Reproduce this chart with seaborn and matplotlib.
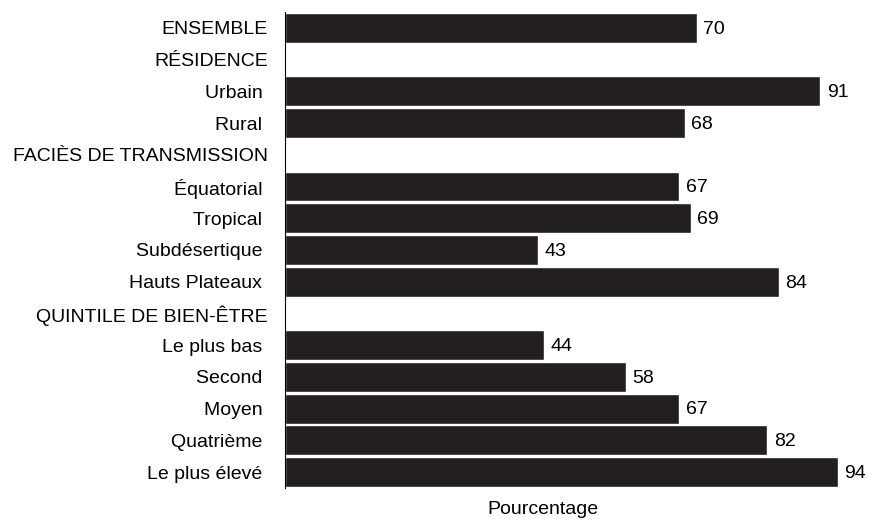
import numpy as np
import pandas as pd
import matplotlib
matplotlib.use("Agg")
import matplotlib.pyplot as plt
import seaborn as sns

categories = ["ENSEMBLE", "RÉSIDENCE", "Urbain", "Rural", "FACIÈS DE TRANSMISSION",
              "Équatorial", "Tropical", "Subdésertique", "Hauts Plateaux",
              "QUINTILE DE BIEN-ÊTRE", "Le plus bas", "Second", "Moyen",
              "Quatrième", "Le plus élevé"]
values = [70, None, 91, 68, None, 67, 69, 43, 84, None, 44, 58, 67, 82, 94]
is_header = [True, True, False, False, True, False, False, False, False,
             True, False, False, False, False, False]
xlabel = "Pourcentage"

sns.set_theme(style="white")
plt.rcParams['font.family'] = ['Liberation Sans', 'DejaVu Sans']

FS = 14

df = pd.DataFrame({"cat": categories,
                   "val": [np.nan if v is None else v for v in values]})

fig = plt.figure(figsize=(8.69, 5.19), dpi=100)
ax = fig.add_axes([285/869, 1 - 488/519, (839 - 285)/869, (488 - 12)/519])
color = "#231f20"
sns.barplot(data=df, x="val", y="cat", order=categories, orient="h",
            color=color, saturation=1, width=0.94, ax=ax, errorbar=None)

ax.set_xlim(0, 94.2)
ax.set_ylim(len(categories) - 0.5, -0.5)
for i, v in enumerate(values):
    if v is not None:
        ax.text(v + 1.1, i + 0.04, f"{v}", va="center", ha="left", fontsize=FS,
                color="black", clip_on=False)

ax.set_yticks(range(len(categories)))
ax.set_yticklabels([c if h else c + " " for c, h in zip(categories, is_header)],
                   fontsize=FS, color="black")
ax.tick_params(axis="y", length=0, pad=12.5)
ax.set_xticks([])
ax.set_ylabel("")
ax.set_xlabel(xlabel, fontsize=FS, color="black")
ax.xaxis.set_label_coords((543 - 285) / (839 - 285), -(509 - 488) / (488 - 12))
ax.xaxis.label.set_va("center")
for s in ["top", "right", "bottom"]:
    ax.spines[s].set_visible(False)
ax.spines["left"].set_color("black")
ax.spines["left"].set_linewidth(0.8)

fig.savefig("out.png", dpi=100)
